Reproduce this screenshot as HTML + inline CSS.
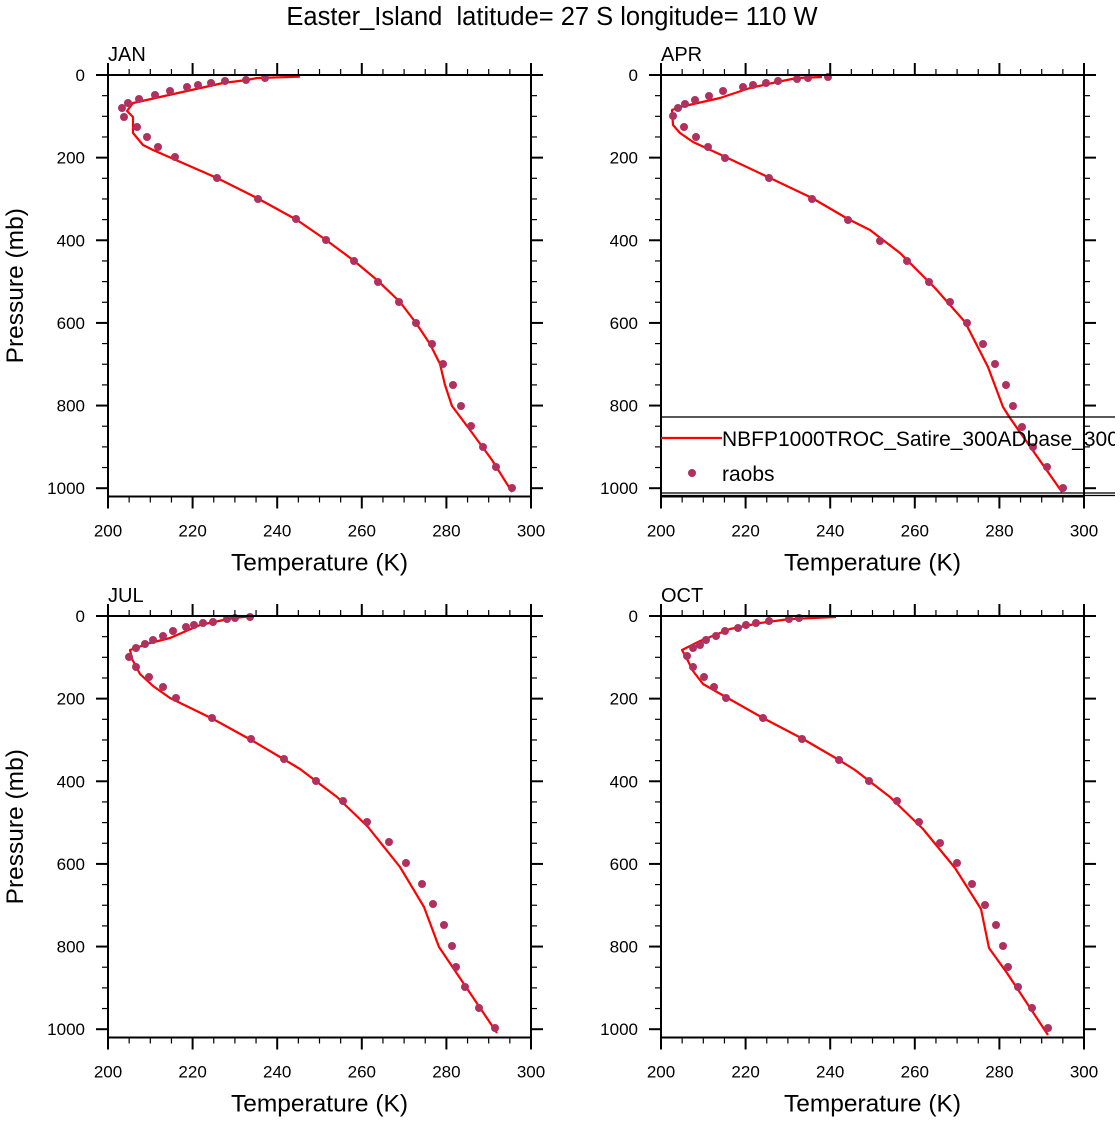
<!DOCTYPE html>
<html><head><meta charset="utf-8"><style>body{margin:0;background:#fff}svg{display:block}text{font-family:"Liberation Sans",sans-serif;fill:#000}</style></head>
<body>
<svg id="s" width="1120" height="1121" xmlns="http://www.w3.org/2000/svg">
<defs><clipPath id="cl"><rect x="0" y="0" width="1115" height="1121"/></clipPath></defs>
<text x="552" y="25" font-size="25.5" text-anchor="middle" xml:space="preserve">Easter_Island  latitude= 27 S longitude= 110 W</text>
</svg>
<script>
const S=document.getElementById('s');let h='';
const panels=[
{n:'JAN',x:108,y:75,ylab:1,
d:[[265,78],[246,80],[225,81],[211,83],[198,85],[187,87],[170,91],[155,95],[139,99],[128,103],[122,108],[124,117],[137,127],[147,137],[158,147],[175,157],[217,178],[258,199],[296,219],[326,240],[354,261],[378,282],[399,302],[416,323],[432,344],[443,364],[453,385],[461,406],[471,426],[483,447],[496,467],[512,488]],
l:[[300,76.7],[257,78],[247,80],[223,83],[133,103],[127,111],[133,117],[133,133],[143,145],[153,150],[217,178],[257,198],[297,220],[326,240],[353,260],[377,280],[400,302],[416,323],[430,344],[440,364],[445,385],[452,406],[470,430],[492,460],[512,492]]},
{n:'APR',x:661,y:75,ylab:0,
d:[[828,77],[808,78],[797,79],[778,81],[766,83],[753,85],[743,87],[723,91],[709,96],[695,100],[685,104],[678,108],[673,116],[684,127],[696,137],[708,147],[725,158],[769,178],[812,199],[848,220],[880,241],[907,261],[929,282],[950,302],[967,323],[983,344],[995,364],[1006,385],[1013,406],[1022,427],[1033,447],[1047,467],[1063,488]],
l:[[822,77],[797,78],[777,82],[750,88],[720,98],[680,107],[672,110],[673,125],[680,133],[693,142],[717,153],[770,178],[812,198],[848,219],[870,230],[900,253],[935,288],[965,322],[988,367],[1003,407],[1010,418],[1062,492]]},
{n:'JUL',x:108,y:616,ylab:1,
d:[[250,617],[235,618],[227,619],[213,622],[203,623],[194,625],[186,627],[173,631],[163,636],[153,640],[145,644],[136,648],[129,657],[136,667],[149,677],[163,687],[176,698],[212,718],[251,739],[284,759],[316,781],[343,801],[367,822],[389,842],[406,863],[422,884],[433,904],[444,925],[452,946],[456,967],[465,987],[479,1008],[495,1028]],
l:[[254,616],[233,618],[200,625],[170,638],[150,643],[130,650],[132,659],[140,674],[153,686],[170,698],[213,719],[253,741],[280,757],[300,769],[337,797],[368,827],[400,867],[424,907],[439,947],[497,1033]]},
{n:'OCT',x:661,y:616,ylab:0,
d:[[799,618],[789,619],[769,621],[756,623],[746,625],[738,628],[725,631],[716,636],[706,640],[700,645],[693,648],[687,656],[693,667],[704,677],[714,687],[726,698],[763,718],[802,739],[839,760],[869,781],[897,801],[919,822],[940,843],[957,863],[972,884],[985,905],[996,925],[1003,946],[1008,967],[1018,987],[1032,1008],[1048,1028]],
l:[[836,617],[790,619],[760,623],[730,629],[700,641],[682,650],[687,659],[693,671],[703,684],[717,692],[763,718],[803,739],[839,760],[855,770],[890,797],[923,829],[955,868],[981,909],[989,948],[1007,973],[1048,1035]]}];
const W=423,sy=0.4132,H=421.5;
for(const p of panels){
 const x0=p.x,y0=p.y,x1=x0+W,y1=y0+H;
 h+=`<polyline points="${p.l.map(a=>a.join(',')).join(' ')}" fill="none" stroke="#f00" stroke-width="2.2" stroke-linejoin="round"/>`;
 for(const a of p.d)h+=`<circle cx="${a[0]}" cy="${a[1]}" r="4" fill="#b03060"/>`;
 h+=`<rect x="${x0}" y="${y0}" width="${W}" height="${H}" fill="none" stroke="#000" stroke-width="2"/>`;
 for(let t=0;t<=20;t++){const x=x0+t*W/20,L=t%4==0?12:6;
  h+=`<line x1="${x}" y1="${y1}" x2="${x}" y2="${y1+L}" stroke="#000" stroke-width="${t%4?1.2:2}"/><line x1="${x}" y1="${y0}" x2="${x}" y2="${y0-L}" stroke="#000" stroke-width="${t%4?1.2:2}"/>`;
  if(t%4==0)h+=`<text x="${x}" y="${y1+40}" font-size="17" text-anchor="middle">${200+t*5}</text>`;}
 for(let v=0;v<=1000;v+=50){const y=y0+v*sy,L=v%200==0?12:6,w=v%200?1.2:2;
  h+=`<line x1="${x0}" y1="${y}" x2="${x0-L}" y2="${y}" stroke="#000" stroke-width="${w}"/><line x1="${x1}" y1="${y}" x2="${x1+L}" y2="${y}" stroke="#000" stroke-width="${w}"/>`;
  if(v%200==0)h+=`<text x="${x0-23}" y="${y+6}" font-size="17" text-anchor="end">${v}</text>`;}
 h+=`<text x="${x0}" y="${y0-14}" font-size="20">${p.n}</text>`;
 h+=`<text x="${x0+W/2}" y="${y1+74}" font-size="24.5" text-anchor="middle">Temperature (K)</text>`;
 if(p.ylab)h+=`<text transform="translate(23,${y0+H/2}) rotate(-90)" font-size="24.5" text-anchor="middle">Pressure (mb)</text>`;
}
h+=`<g clip-path="url(#cl)"><rect x="661" y="417" width="470" height="76" fill="none" stroke="#000" stroke-width="1.3"/><line x1="661" y1="495.5" x2="1120" y2="495.5" stroke="#000" stroke-width="1.3"/>`;
h+=`<line x1="661" y1="438" x2="722" y2="438" stroke="#f00" stroke-width="2.2"/><text x="722" y="446" font-size="21">NBFP1000TROC_Satire_300ADbase_300</text>`;
h+=`<circle cx="692" cy="473" r="4" fill="#b03060"/><text x="722" y="481" font-size="21">raobs</text></g>`;
S.insertAdjacentHTML('beforeend',h);
</script>
</body></html>
